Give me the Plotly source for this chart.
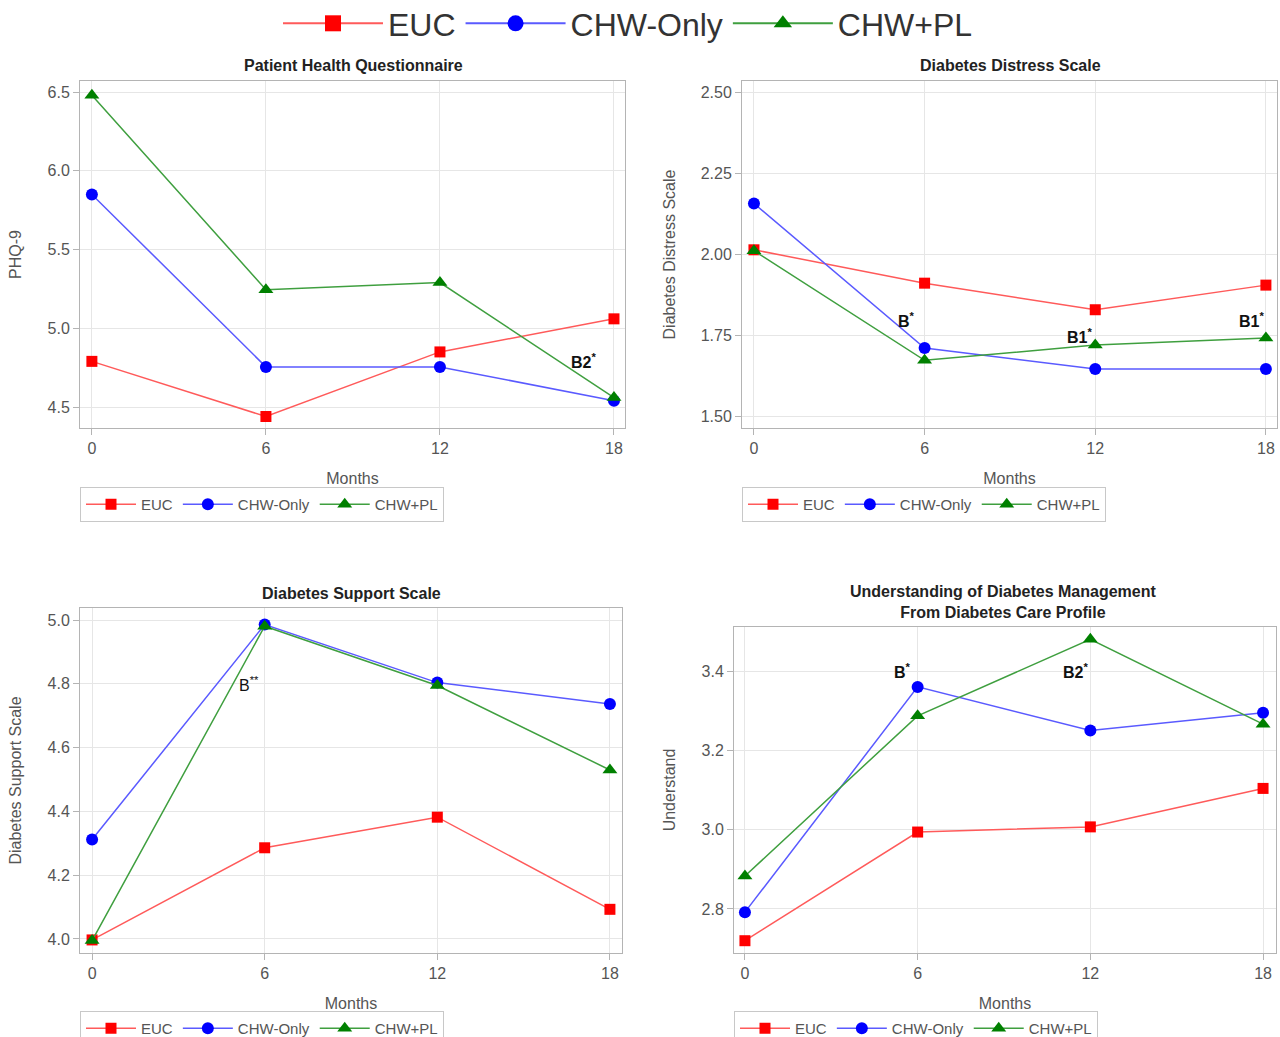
import plotly.graph_objects as go

W, H = 1280, 1037
months = [0, 6, 12, 18]
groups = ["EUC", "CHW-Only", "CHW+PL"]

# Panel 1: PHQ-9
phq_euc = [4.79, 4.44, 4.85, 5.06]
phq_chw = [5.85, 4.755, 4.755, 4.54]
phq_pl = [6.48, 5.245, 5.29, 4.56]
# Panel 2: Diabetes Distress Scale
dds_euc = [2.013, 1.91, 1.828, 1.904]
dds_chw = [2.156, 1.71, 1.645, 1.645]
dds_pl = [2.01, 1.672, 1.719, 1.741]
# Panel 3: Diabetes Support Scale
dss_euc = [3.997, 4.286, 4.382, 4.093]
dss_chw = [4.312, 4.986, 4.804, 4.737]
dss_pl = [3.995, 4.981, 4.795, 4.53]
# Panel 4: Understanding
und_euc = [2.72, 2.994, 3.007, 3.104]
und_chw = [2.792, 3.36, 3.25, 3.295]
und_pl = [2.883, 3.287, 3.48, 3.266]

panel_titles = ["<b>Patient Health Questionnaire</b>",
                "<b>Diabetes Distress Scale</b>",
                "<b>Diabetes Support Scale</b>",
                "<b>Understanding of Diabetes Management</b><br><b>From Diabetes Care Profile</b>"]
y_titles = ["PHQ-9", "Diabetes Distress Scale", "Diabetes Support Scale", "Understand"]
y_ticks = [[4.5, 5.0, 5.5, 6.0, 6.5], [1.5, 1.75, 2.0, 2.25, 2.5],
           [4.0, 4.2, 4.4, 4.6, 4.8, 5.0], [2.8, 3.0, 3.2, 3.4]]
y_ticktext = [["4.5", "5.0", "5.5", "6.0", "6.5"], ["1.50", "1.75", "2.00", "2.25", "2.50"],
              ["4.0", "4.2", "4.4", "4.6", "4.8", "5.0"], ["2.8", "3.0", "3.2", "3.4"]]
y_ranges = [[4.367, 6.57], [1.463, 2.534], [3.956, 5.038], [2.689, 3.511]]
x_ranges = [[-0.41, 18.38], [-0.42, 18.39], [-0.42, 18.42], [-0.38, 18.45]]
# annotations: (panel, month, value, text, bold)
notes = [(0, 16.95, 4.79, "B2<sup>*</sup>", True),
         (1, 5.38, 1.797, "B<sup>*</sup>", True),
         (1, 11.46, 1.747, "B1<sup>*</sup>", True),
         (1, 17.48, 1.797, "B1<sup>*</sup>", True),
         (2, 5.47, 4.80, "B<sup>**</sup>", False),
         (3, 5.48, 3.40, "B<sup>*</sup>", True),
         (3, 11.47, 3.40, "B2<sup>*</sup>", True)]

series = [[phq_euc, phq_chw, phq_pl], [dds_euc, dds_chw, dds_pl],
          [dss_euc, dss_chw, dss_pl], [und_euc, und_chw, und_pl]]

# pixel boxes of plot frames: left, right, top, bottom
boxes = [(80, 625, 81, 428), (742, 1277, 81, 428), (80, 622, 608, 953), (734, 1276, 627, 953)]
legend_pos = [(80, 487), (742, 487), (80, 1011), (734, 1011)]
title_pos = [(353, 66), (1010, 66), (351, 593), (1003, 602)]

line_colors = ["#ff5a5a", "#5a5aff", "#3f9f3f"]
marker_colors = ["#ff0000", "#0000ff", "#008000"]
symbols = ["square", "circle", "triangle-up"]
msizes = [11, 12, 13]

FONT = "Liberation Sans, Arial, sans-serif"
fig = go.Figure()

# top (overall) legend entries
for g in range(3):
    fig.add_trace(go.Scatter(x=[None], y=[None], mode="lines+markers", name=groups[g],
                             line=dict(color=line_colors[g], width=2),
                             marker=dict(symbol=symbols[g], size=16, color=marker_colors[g]),
                             legend="legend", showlegend=True, hoverinfo="skip"))

for p in range(4):
    ax = "" if p == 0 else str(p + 1)
    for g in range(3):
        fig.add_trace(go.Scatter(x=months, y=series[p][g], mode="lines+markers", name=groups[g],
                                 xaxis="x" + ax, yaxis="y" + ax,
                                 line=dict(color=line_colors[g], width=1.5),
                                 marker=dict(symbol=symbols[g], size=msizes[g], color=marker_colors[g]),
                                 legend="legend" + str(p + 2), showlegend=True))

layout = dict(width=W, height=H, margin=dict(l=0, r=0, t=0, b=0, autoexpand=False),
              paper_bgcolor="white", plot_bgcolor="white",
              font=dict(family=FONT, color="#333"))

for p in range(4):
    l, r, t, b = boxes[p]
    ax = "" if p == 0 else str(p + 1)
    layout["xaxis" + ax] = dict(domain=[l / W, r / W], anchor="y" + ax, range=x_ranges[p],
                                tickvals=months, showline=True, mirror=True, linecolor="#b4b4b4",
                                linewidth=1, gridcolor="#e6e6e6", zeroline=False,
                                ticks="outside", ticklen=6, tickcolor="#b4b4b4",
                                tickfont=dict(size=16, color="#555"),
                                title=dict(text="Months", font=dict(size=16, color="#555"), standoff=16))
    layout["yaxis" + ax] = dict(domain=[1 - b / H, 1 - t / H], anchor="x" + ax, range=y_ranges[p],
                                tickvals=y_ticks[p], ticktext=y_ticktext[p],
                                showline=True, mirror=True, linecolor="#b4b4b4", linewidth=1,
                                gridcolor="#e6e6e6", zeroline=False,
                                ticks="outside", ticklen=6, tickcolor="#b4b4b4",
                                tickfont=dict(size=16, color="#555"),
                                title=dict(text=y_titles[p], font=dict(size=16, color="#555"), standoff=21))
    lx, ly = legend_pos[p]
    layout["legend" + str(p + 2)] = dict(orientation="h", x=lx / W, y=1 - ly / H, xanchor="left",
                                         yanchor="top", bordercolor="#c8c8c8", borderwidth=1,
                                         font=dict(size=15, color="#555"), itemwidth=50,
                                         bgcolor="white", itemclick=False, tracegroupgap=0)

layout["legend"] = dict(orientation="h", x=628 / W, y=1 + 4 / H, xanchor="center", yanchor="top",
                        font=dict(size=32, color="#333"), itemwidth=100, borderwidth=0,
                        itemsizing="trace", bgcolor="rgba(0,0,0,0)")

annots = []
for p in range(4):
    tx, ty = title_pos[p]
    annots.append(dict(text=panel_titles[p], x=tx / W, y=1 - ty / H, xref="paper", yref="paper",
                       showarrow=False, font=dict(size=16, color="#222"), xanchor="center",
                       yanchor="middle"))
for (p, mx, vy, txt, bold) in notes:
    ax = "" if p == 0 else str(p + 1)
    annots.append(dict(text=("<b>%s</b>" % txt) if bold else txt, x=mx, y=vy,
                       xref="x" + ax, yref="y" + ax, showarrow=False,
                       font=dict(size=16, color="#111"), xanchor="center", yanchor="middle"))
layout["annotations"] = annots

fig.update_layout(**layout)
fig.write_html("out.html", config={"displayModeBar": False},
               post_script="document.body.style.margin='0';document.body.style.overflow='hidden';")
